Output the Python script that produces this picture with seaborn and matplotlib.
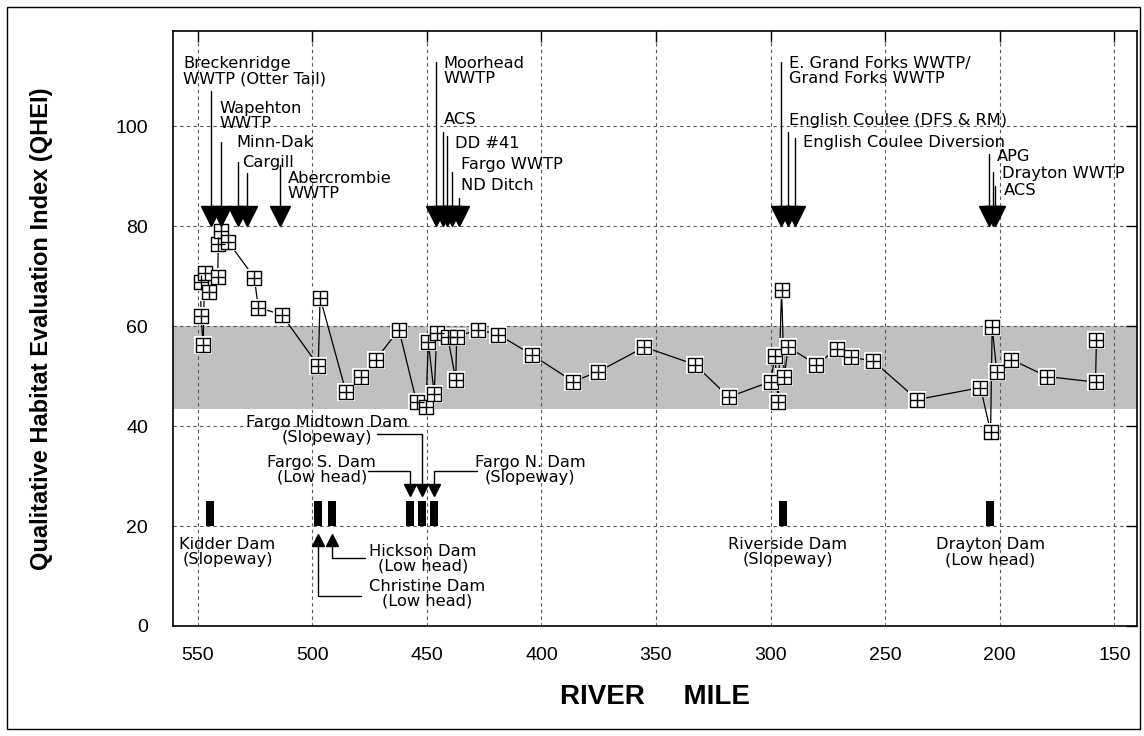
import matplotlib
matplotlib.use("Agg")
import matplotlib.pyplot as plt
from matplotlib.patches import Rectangle
import seaborn as sns
import pandas as pd

# ---------------- data ----------------
river_mile = [548.7, 548.6, 547.6, 547.0, 544.9, 541.3, 541.0, 540.0, 536.8, 525.3, 523.6, 513.4,
              497.4, 496.6, 485.3, 478.9, 472.3, 462.2, 454.5, 450.4, 449.4, 446.8, 445.7, 440.9,
              437.4, 437.0, 427.6, 418.8, 404.3, 386.1, 375.2, 355.1, 333.0, 318.3, 300.0, 298.1,
              296.7, 295.2, 294.1, 292.3, 280.0, 271.0, 265.0, 255.2, 236.0, 208.4, 204.0, 203.3,
              201.3, 194.9, 179.3, 158.2, 157.8]
qhei = [68.8, 62.0, 56.3, 70.7, 66.8, 69.9, 76.5, 79.0, 76.9, 69.7, 63.7, 62.3,
        52.1, 65.7, 46.8, 49.9, 53.3, 59.3, 44.8, 43.8, 56.8, 46.5, 58.7, 57.8,
        49.3, 57.9, 59.3, 58.3, 54.3, 48.9, 50.9, 55.8, 52.3, 45.8, 48.9, 54.0,
        44.8, 67.3, 49.9, 55.8, 52.3, 55.5, 53.8, 53.0, 45.3, 47.7, 38.9, 59.8,
        50.9, 53.3, 49.9, 48.8, 57.3]

band_range = [43.5, 60.0]

dam_miles = [544.8, 497.6, 491.5, 457.2, 452.3, 447.0, 294.5, 204.2]
dam_range = [20.0, 25.0]

x_ticks = [550, 500, 450, 400, 350, 300, 250, 200, 150]
y_ticks = [0, 20, 40, 60, 80, 100]

# outfalls: label, text x (left edge), text y (center), arrow mile, line top
outfalls = [
    ("Breckenridge\nWWTP (Otter Tail)", 556.3, 111.0, 544.2, 107.1),
    ("Wapehton\nWWTP", 540.7, 102.0, 540.0, 96.9),
    ("Minn-Dak", 533.3, 96.7, 532.5, 92.8),
    ("Cargill", 530.5, 92.8, 528.6, 90.6),
    ("Abercrombie\nWWTP", 510.7, 88.1, 514.1, 92.3),
    ("Moorhead\nWWTP", 442.8, 111.0, 446.2, 112.8),
    ("ACS", 442.8, 101.3, 443.1, 98.8),
    ("DD #41", 437.7, 96.6, 441.1, 98.1),
    ("Fargo WWTP", 435.3, 92.3, 438.9, 90.8),
    ("ND Ditch", 435.3, 88.1, 435.9, 85.6),
    ("E. Grand Forks WWTP/\nGrand Forks WWTP", 291.9, 111.0, 295.5, 112.8),
    ("English Coulee (DFS & RM)", 291.9, 101.1, 292.4, 98.8),
    ("English Coulee Diversion", 286.0, 96.7, 289.4, 97.6),
    ("APG", 201.4, 94.0, 204.8, 94.5),
    ("Drayton WWTP", 199.2, 90.5, 202.9, 90.8),
    ("ACS", 198.4, 87.1, 201.9, 88.1),
]

# ---------------- style ----------------
sns.set_theme(style="white")
plt.rcParams["font.family"] = ["DejaVu Sans"]
plt.rcParams["text.color"] = "black"
plt.rcParams["axes.labelcolor"] = "black"
plt.rcParams["xtick.color"] = "black"
plt.rcParams["ytick.color"] = "black"

fig = plt.figure(figsize=(11.44, 7.36), dpi=100)
ax = fig.add_axes([173/1144, 1-626/736, (1137-173)/1144, (626-30.7)/736])

df = pd.DataFrame({"mile": river_mile, "qhei": qhei})

ax.axhspan(band_range[0], band_range[1], color="#c0c0c0", lw=0, zorder=0.5)

sns.lineplot(data=df, x="mile", y="qhei", sort=False, estimator=None,
             color="black", lw=0.9, ax=ax, zorder=2)
sns.scatterplot(data=df, x="mile", y="qhei", marker="s", s=13.5**2, color="white",
                edgecolor="white", linewidth=0, ax=ax, zorder=3)
sns.scatterplot(data=df, x="mile", y="qhei", marker="s", s=10.5**2, color="white",
                edgecolor="black", linewidth=1.0, ax=ax, zorder=4)
sns.scatterplot(data=df, x="mile", y="qhei", marker="+", s=10.5**2, color="black",
                linewidth=1.0, ax=ax, zorder=5)

# dams
ax.bar(dam_miles, dam_range[1]-dam_range[0], bottom=dam_range[0], width=3.4,
       color="black", lw=0, zorder=3)

# outfall arrows
fs = 11.7
for label, tx, ty, lx, ltop in outfalls:
    ax.text(tx, ty, label, ha="left", va="center", fontsize=fs, linespacing=1.0,
            color="black", zorder=6)
    ax.plot([lx, lx], [ltop, 83.5], color="black", lw=1.0, zorder=5)
    ax.plot([lx], [82.0], marker="v", markersize=13.7, color="black", mec="black",
            lw=0, zorder=5)

# dam labels
dam_text = dict(fontsize=fs, linespacing=1.0, zorder=6, multialignment="center",
                color="black")
ax.text(558.0, 14.8, "Kidder Dam\n(Slopeway)", ha="left", va="center", **dam_text)
ax.text(292.6, 14.8, "Riverside Dam\n(Slopeway)", ha="center", va="center", **dam_text)
ax.text(204.0, 14.8, "Drayton Dam\n(Low head)", ha="center", va="center", **dam_text)
ax.text(495.9, 31.3, "Fargo S. Dam\n(Low head)", ha="center", va="center", **dam_text)
ax.text(493.6, 39.3, "Fargo Midtown Dam\n(Slopeway)", ha="center", va="center", **dam_text)
ax.text(405.0, 31.3, "Fargo N. Dam\n(Slopeway)", ha="center", va="center", **dam_text)
ax.text(451.6, 13.5, "Hickson Dam\n(Low head)", ha="center", va="center", **dam_text)
ax.text(450.1, 6.5, "Christine Dam\n(Low head)", ha="center", va="center", **dam_text)

lk = dict(color="black", lw=1.0, zorder=5)
# down arrows to Fargo dams
ax.plot([475.6, 457.2, 457.2], [31.1, 31.1, 28.0], **lk)
ax.plot([471.9, 452.3, 452.3], [38.5, 38.5, 28.0], **lk)
ax.plot([428.3, 447.0, 447.0], [31.1, 31.1, 28.0], **lk)
for m in [457.2, 452.3, 447.0]:
    ax.plot([m], [27.3], marker="v", markersize=8, color="black", lw=0, zorder=5)
# up arrows to Christine / Hickson
ax.plot([491.5, 491.5, 477.0], [16.5, 13.6, 13.6], **lk)
ax.plot([497.6, 497.6, 478.9], [16.5, 6.1, 6.1], **lk)
for m in [497.6, 491.5]:
    ax.plot([m], [17.3], marker="^", markersize=8, color="black", lw=0, zorder=5)

# axes
ax.set_xlim(560.8, 140.1)
ax.set_ylim(0, 119.1)
ax.set_xticks(x_ticks)
ax.set_yticks(y_ticks)
ax.grid(True, ls=(0, (3, 3)), color="#555555", lw=0.8)
ax.set_axisbelow("line")
ax.tick_params(direction="in", length=8, width=1.0, top=True, right=True,
               labelsize=14, colors="black")
ax.tick_params(axis="x", pad=15)
ax.tick_params(axis="y", pad=18)
for lab in ax.get_xticklabels() + ax.get_yticklabels():
    lab.set_family("Liberation Sans")
for sp in ax.spines.values():
    sp.set_color("black")
    sp.set_linewidth(1.2)

ax.set_xlabel("RIVER     MILE", fontsize=20, fontweight="bold", family="Liberation Sans",
              color="black")
ax.xaxis.set_label_coords(0.5, -0.097)
ax.set_ylabel("Qualitative Habitat Evaluation Index (QHEI)", fontsize=17,
              fontweight="bold", family="Liberation Sans", color="black")
ax.yaxis.set_label_coords(-0.1245, 0.5)

fig.patches.append(Rectangle((7/1144, 7/736), 1133/1144, 722/736, transform=fig.transFigure,
                             fill=False, lw=1.0, ec="black"))

fig.savefig("out.png", dpi=100)
